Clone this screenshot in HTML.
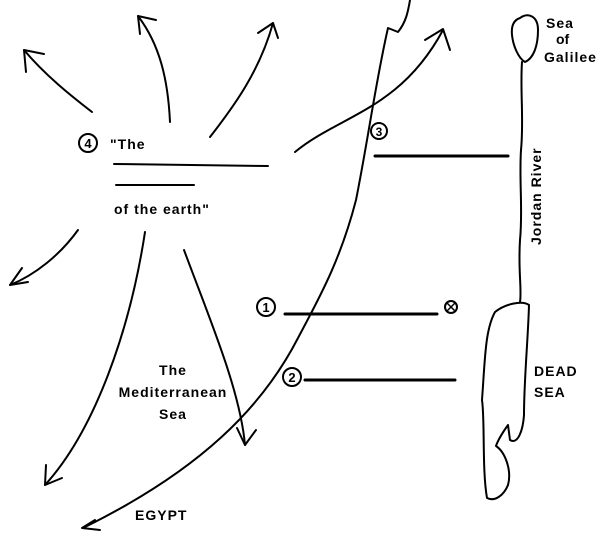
<!DOCTYPE html>
<html><head><style>
body{margin:0;background:#fff;}
svg{display:block;font-family:"Liberation Sans",sans-serif;font-weight:bold;}
</style></head><body>
<svg width="606" height="538" viewBox="0 0 606 538" xmlns="http://www.w3.org/2000/svg">
<rect width="606" height="538" fill="#fff"/>
<g fill="none" stroke="#000" stroke-width="2" stroke-linecap="round" stroke-linejoin="round">
<!-- coastline -->
<path d="M410,0 C408,12 406,22 398,32 L388,28 C376,80 368,140 356,200 C340,262 318,300 298,338 C262,408 200,470 85,527"/>
<path d="M95,520 L82,528 L100,530"/>
<!-- NE arrow -->
<path d="M295,152 C340,115 400,110 443,30"/>
<path d="M425,40 L443,29 L450,50"/>
<!-- radiating arrows -->
<path d="M92,112 C70,95 45,75 24,50"/><path d="M26,72 L24,50 L44,54"/>
<path d="M170,122 C168,80 160,45 138,16"/><path d="M138,16 L156,20 M138,16 L140,34"/>
<path d="M210,137 C235,105 260,70 273,23"/><path d="M258,33 L273,23 L278,38"/>
<path d="M78,230 C60,255 35,275 10,285"/><path d="M10,285 L22,268 M10,285 L28,282"/>
<path d="M145,232 C130,330 95,430 45,485"/><path d="M45,485 L46,465 M45,485 L62,478"/>
<path d="M184,250 C210,320 240,390 245,445"/><path d="M245,445 L237,428 M245,445 L256,430"/>
<!-- Galilee and Jordan -->
<path d="M520,18 C528,12 538,16 538,30 C538,45 534,58 525,62 C518,58 513,45 512,35 C511,25 514,20 520,18 Z"/>
<path d="M522,62 C520,90 524,120 521,150 C519,180 523,210 520,240 C518,270 522,290 520,302"/>
<path d="M495,312 C505,304 522,300 529,305 C528,340 524,380 524,415 C523,430 518,445 510,440 L508,425 C503,432 498,440 496,446 C505,452 512,470 508,485 C504,495 495,502 487,498 C482,470 485,420 482,400 C485,360 485,330 495,312 Z"/>
<!-- blank lines -->
<path d="M375,156 L508,156" stroke-width="3"/>
<path d="M285,314 L437,314" stroke-width="3"/>
<path d="M305,380 L455,380" stroke-width="3"/>
<path d="M114,164 L268,166" stroke-width="2"/>
<path d="M116,185 L194,185" stroke-width="2"/>
<!-- circles -->
<circle cx="88" cy="143" r="9"/>
<circle cx="379" cy="131" r="8"/>
<circle cx="266" cy="307" r="9"/>
<circle cx="292" cy="377" r="9"/>
<circle cx="451" cy="307" r="6"/>
<path d="M447,303 L455,311 M455,303 L447,311" stroke-width="1.5"/>
</g>
<g font-size="14" fill="#000" text-anchor="middle">
<text x="88" y="148" font-size="13">4</text>
<text x="379" y="136" font-size="12">3</text>
<text x="266" y="312" font-size="13">1</text>
<text x="292" y="382" font-size="13">2</text>
</g>
<g font-size="14" fill="#000" letter-spacing="1">
<text x="110" y="149">"The</text>
<text x="114" y="214">of the earth"</text>
<text x="173" y="375" text-anchor="middle">The</text>
<text x="173" y="397" text-anchor="middle">Mediterranean</text>
<text x="173" y="419" text-anchor="middle">Sea</text>
<text x="135" y="520">EGYPT</text>
<text x="534" y="376">DEAD</text>
<text x="534" y="397">SEA</text>
<text x="546" y="28">Sea</text>
<text x="556" y="44" letter-spacing="0">of</text>
<text x="544" y="62">Galilee</text>
<text transform="translate(541,245) rotate(-90)" font-size="14">Jordan River</text>
</g>
</svg>
</body></html>
